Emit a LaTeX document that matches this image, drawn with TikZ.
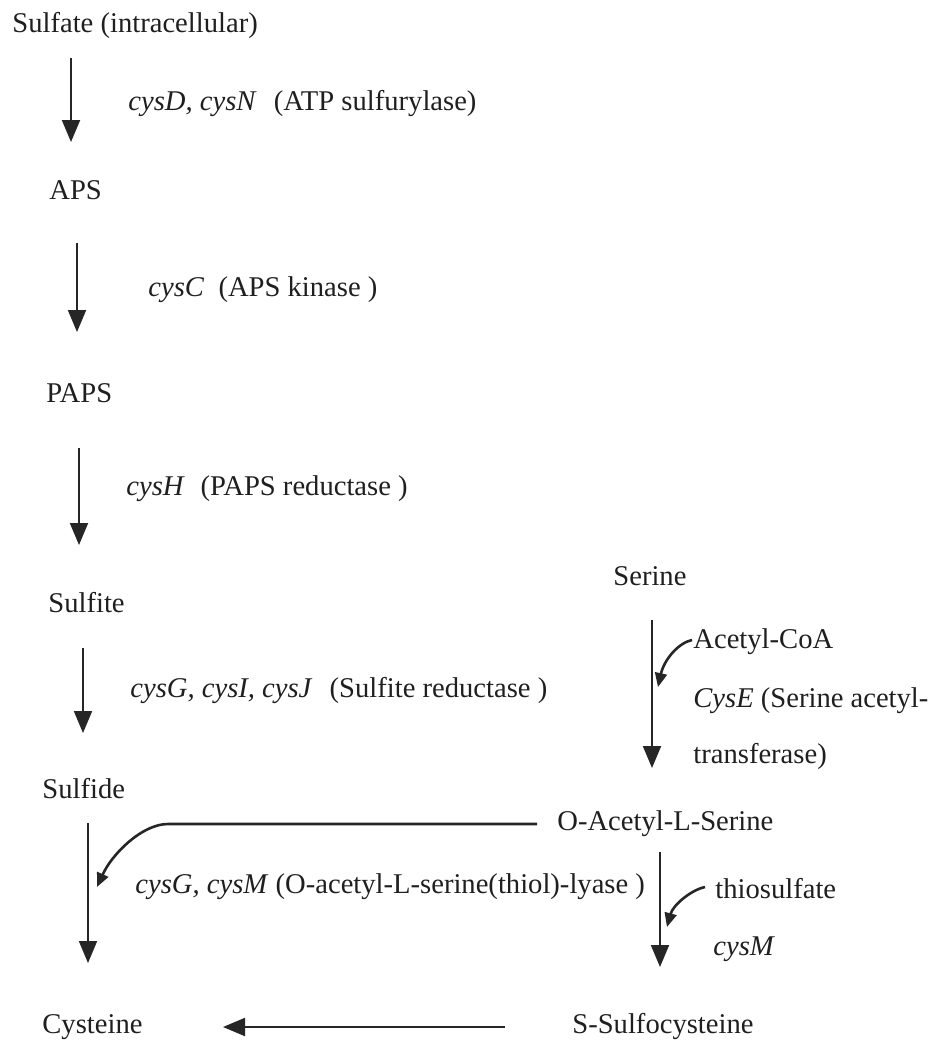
\documentclass[tikz,border=0pt]{standalone}
\usepackage{fontspec}
\setmainfont{Liberation Serif}
\usetikzlibrary{arrows.meta}
\begin{document}
\begin{tikzpicture}[x=0.5pt,y=-0.5pt,
  lbl/.style={anchor=base west,inner sep=0pt,font=\fontsize{14.3}{17}\selectfont,text=black!88},
  arr/.style={draw=black!85,line width=1pt,-{Triangle[width=9pt,length=11pt]}},
  carr/.style={draw=black!85,line width=1.3pt,-{Triangle[width=6pt,length=7pt]}}]
\useasboundingbox[fill=white] (0,0) rectangle (937,1040);
% left column
\node[lbl] (sulfate) at (12,32) {Sulfate (intracellular)};
\node[lbl] (e1) at (128,110) {\textit{cysD, cysN}\hspace{0.6em}(ATP sulfurylase)};
\node[lbl] (aps) at (49,199) {APS};
\node[lbl] (e2) at (148,296) {\textit{cysC}\hspace{0.5em}(APS kinase )};
\node[lbl] (paps) at (46,402) {PAPS};
\node[lbl] (e3) at (126,495) {\textit{cysH}\hspace{0.55em}(PAPS reductase )};
\node[lbl] (sulfite) at (48,612) {Sulfite};
\node[lbl] (e4) at (130,697) {\textit{cysG, cysI, cysJ}\hspace{0.6em}(Sulfite reductase )};
\node[lbl] (sulfide) at (42,798) {Sulfide};
\node[lbl] (e5) at (135,893) {\textit{cysG, cysM} (O-acetyl-L-serine(thiol)-lyase )};
\node[lbl] (cys) at (42,1033) {Cysteine};
% right column
\node[lbl] (ser) at (613,585) {Serine};
\node[lbl] (acoa) at (693,648) {Acetyl-CoA};
\node[lbl] (e6) at (693,707) {\textit{CysE} (Serine acetyl-};
\node[lbl] (e6b) at (693,763) {transferase)};
\node[lbl] (oas) at (557,830) {O-Acetyl-L-Serine};
\node[lbl] (thio) at (715,898) {thiosulfate};
\node[lbl] (e7) at (713,955) {\textit{cysM}};
\node[lbl] (ssc) at (572,1033) {S-Sulfocysteine};
% arrow end points
\coordinate (a1s) at (71,58);   \coordinate (a1e) at (71,142);
\coordinate (a2s) at (77,243);  \coordinate (a2e) at (77,332);
\coordinate (a3s) at (79,448);  \coordinate (a3e) at (79,545);
\coordinate (a4s) at (83,648);  \coordinate (a4e) at (83,733);
\coordinate (a5s) at (88,823);  \coordinate (a5e) at (88,963);
\coordinate (a6s) at (652,620); \coordinate (a6e) at (652,768);
\coordinate (a7s) at (660,852); \coordinate (a7e) at (660,967);
\coordinate (a8s) at (505,1027); \coordinate (a8e) at (223,1027);
\coordinate (oasl) at (537,824); \coordinate (bend) at (168,824); \coordinate (oast) at (97,887);
\coordinate (acs) at (692,640); \coordinate (ace) at (658,687);
\coordinate (ths) at (705,887); \coordinate (the) at (667,927);
% straight arrows
\draw[arr] (a1s) -- (a1e);
\draw[arr] (a2s) -- (a2e);
\draw[arr] (a3s) -- (a3e);
\draw[arr] (a4s) -- (a4e);
\draw[arr] (a5s) -- (a5e);
\draw[arr] (a6s) -- (a6e);
\draw[arr] (a7s) -- (a7e);
\draw[arr] (a8s) -- (a8e);
% curved arrows
\draw[carr] (oasl) -- (bend) .. controls (142,824) and (112,854) .. (oast);
\draw[carr] (acs) .. controls (678,643) and (664,660) .. (ace);
\draw[carr] (ths) .. controls (691,890) and (673,905) .. (the);
\end{tikzpicture}
\end{document}
